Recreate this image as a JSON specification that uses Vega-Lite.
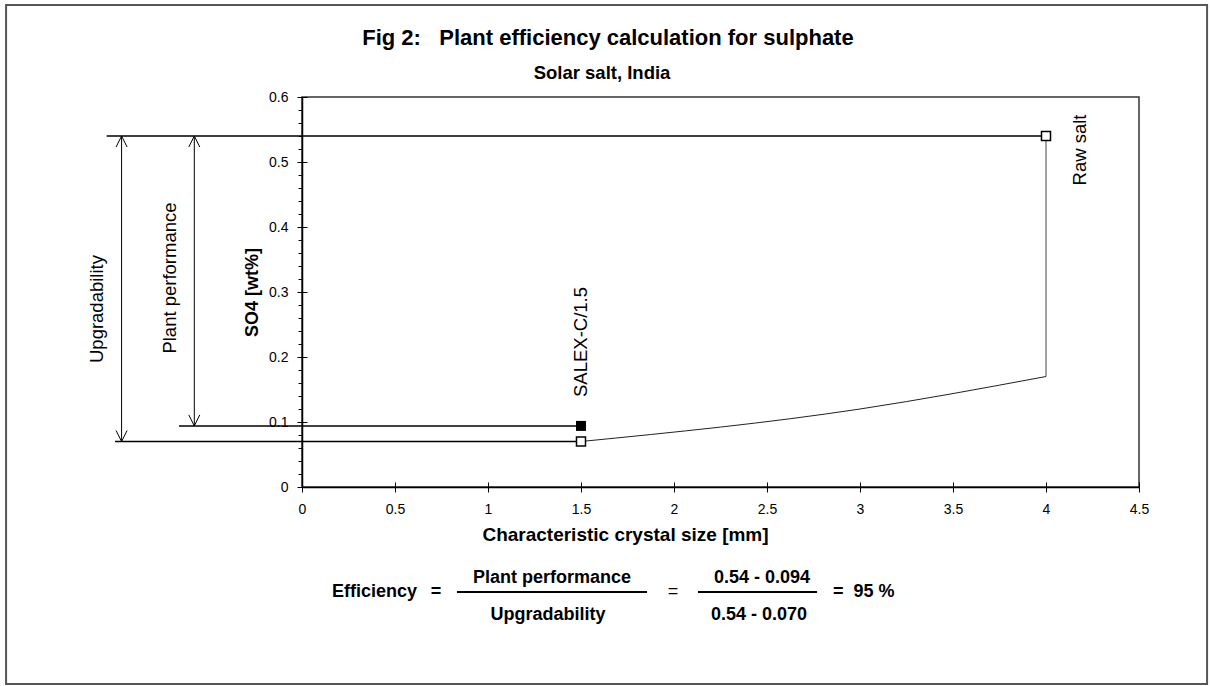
{
  "$schema": "https://vega.github.io/schema/vega-lite/v6.json",
  "autosize": {"type": "none"},
  "width": 837,
  "height": 390,
  "padding": {"left": 302, "top": 97, "right": 71, "bottom": 199},
  "background": "white",
  "config": {
    "font": "Liberation Sans",
    "view": {"stroke": "#333333", "strokeWidth": 1.5},
    "axis": {"grid": false, "domainColor": "black", "domainWidth": 1.5, "tickColor": "black", "labelColor": "black", "titleColor": "black", "labelFont": "Liberation Sans", "titleFont": "Liberation Sans"}
  },
  "resolve": {"axis": {"x": "independent", "y": "independent"}},
  "datasets": {
    "series": [{"x": 1.5, "y": 0.07}, {"x": 3, "y": 0.12}, {"x": 4, "y": 0.17}],
    "vertical": [{"x": 4, "y": 0.17, "y2": 0.54}],
    "points": [{"x": 1.5, "y": 0.07, "kind": "open"}, {"x": 4, "y": 0.54, "kind": "open"}, {"x": 1.5, "y": 0.094, "kind": "filled"}],
    "hlines": [{"x": -1.05, "x2": 4, "y": 0.54}, {"x": -0.661, "x2": 1.5, "y": 0.094}, {"x": -1.005, "x2": 1.5, "y": 0.07}],
    "arrows": [{"x": -0.97, "y": 0.07, "y2": 0.54}, {"x": -0.579, "y": 0.094, "y2": 0.54}],
    "rotlabels": [
      {"x": -1.102, "y": 0.2738, "text": "Upgradability"},
      {"x": -0.71, "y": 0.3215, "text": "Plant performance"},
      {"x": 1.5, "y": 0.2231, "text": "SALEX-C/1.5"},
      {"x": 4.183, "y": 0.5185, "text": "Raw salt"}
    ],
    "titles": [{"x": 1.645, "y": 0.68, "text": "Fig 2:\u00a0\u00a0 Plant efficiency calculation for sulphate"}],
    "subtitles": [{"x": 1.613, "y": 0.6277, "text": "Solar salt, India"}],
    "eqcenter": [
      {"x": 1.344, "y": -0.1477, "text": "Plant performance"},
      {"x": 1.323, "y": -0.2046, "text": "Upgradability"},
      {"x": 2.473, "y": -0.1477, "text": "0.54 - 0.094"},
      {"x": 2.457, "y": -0.2046, "text": "0.54 - 0.070"},
      {"x": 0.72, "y": -0.1692, "text": "="}
    ],
    "eqleft": [
      {"x": 0.161, "y": -0.1692, "text": "Efficiency"},
      {"x": 2.855, "y": -0.1692, "text": "=\u00a0\u00a095 %"}
    ],
    "eqplain": [{"x": 1.995, "y": -0.1692, "text": "="}],
    "fraclines": [{"x": 0.833, "x2": 1.855, "y": -0.1615}, {"x": 2.129, "x2": 2.769, "y": -0.1615}],
    "frame": [{"x": -1.591, "x2": 4.866, "y": 0.7415, "y2": -0.303}]
  },
  "layer": [
    {
      "data": {"name": "series"},
      "mark": {"type": "line", "interpolate": "monotone", "color": "#222222", "strokeWidth": 1},
      "encoding": {
        "x": {"field": "x", "type": "quantitative", "scale": {"domain": [0, 4.5], "nice": false, "zero": false},
          "axis": {"orient": "bottom", "title": "Characteristic crystal size [mm]", "values": [0, 0.5, 1, 1.5, 2, 2.5, 3, 3.5, 4, 4.5], "format": "~g", "tickSize": 5, "labelPadding": 10, "labelFontSize": 14, "titleFontSize": 19, "titleFontWeight": "bold", "titleX": 323, "titleY": 53, "titleBaseline": "alphabetic", "labelFlush": false, "labelOverlap": false}},
        "y": {"field": "y", "type": "quantitative", "scale": {"domain": [0, 0.6], "nice": false, "zero": false},
          "axis": {"orient": "left", "title": "SO4 [wt%]", "values": [0, 0.1, 0.2, 0.3, 0.4, 0.5, 0.6], "format": "~g", "tickSize": 5, "labelPadding": 9, "labelFontSize": 14, "titleFontSize": 18, "titleFontWeight": "bold", "titleX": -50, "titleY": 195, "titleBaseline": "middle", "labelFlush": false, "labelOverlap": false}}
      }
    },
    {
      "data": {"name": "frame"},
      "mark": {"type": "rect", "fill": null, "fillOpacity": 0, "stroke": "#555555", "strokeWidth": 2},
      "encoding": {
        "x": {"field": "x", "type": "quantitative", "scale": {"domain": [0, 4.5], "nice": false, "zero": false},
          "axis": {"orient": "bottom", "title": null, "values": [0, 0.5, 1, 1.5, 2, 2.5, 3, 3.5, 4, 4.5], "tickSize": -5, "labels": false, "domain": false}},
        "x2": {"field": "x2"},
        "y": {"field": "y", "type": "quantitative", "scale": {"domain": [0, 0.6], "nice": false, "zero": false},
          "axis": {"orient": "left", "title": null, "values": [0.02, 0.04, 0.06, 0.08, 0.12, 0.14, 0.16, 0.18, 0.22, 0.24, 0.26, 0.28, 0.32, 0.34, 0.36, 0.38, 0.42, 0.44, 0.46, 0.48, 0.52, 0.54, 0.56, 0.58], "tickSize": 4, "labels": false, "domain": false}},
        "y2": {"field": "y2"}
      }
    },
    {
      "data": {"name": "vertical"},
      "mark": {"type": "rule", "color": "#444444", "strokeWidth": 1},
      "encoding": {
        "x": {"field": "x", "type": "quantitative", "scale": {"domain": [0, 4.5], "nice": false, "zero": false}, "axis": null},
        "y": {"field": "y", "type": "quantitative", "scale": {"domain": [0, 0.6], "nice": false, "zero": false},
          "axis": {"orient": "left", "title": null, "values": [0, 0.1, 0.2, 0.3, 0.4, 0.5, 0.6], "tickSize": -5, "labels": false, "domain": false}},
        "y2": {"field": "y2"}
      }
    },
    {
      "data": {"name": "hlines"},
      "mark": {"type": "rule", "color": "black", "strokeWidth": 1.5},
      "encoding": {
        "x": {"field": "x", "type": "quantitative", "scale": {"domain": [0, 4.5], "nice": false, "zero": false}, "axis": null},
        "x2": {"field": "x2"},
        "y": {"field": "y", "type": "quantitative", "scale": {"domain": [0, 0.6], "nice": false, "zero": false}, "axis": null}
      }
    },
    {
      "data": {"name": "arrows"},
      "mark": {"type": "rule", "color": "black", "strokeWidth": 1},
      "encoding": {
        "x": {"field": "x", "type": "quantitative", "scale": {"domain": [0, 4.5], "nice": false, "zero": false}, "axis": null},
        "y": {"field": "y", "type": "quantitative", "scale": {"domain": [0, 0.6], "nice": false, "zero": false}, "axis": null},
        "y2": {"field": "y2"}
      }
    },
    {
      "data": {"name": "arrows"},
      "mark": {"type": "point", "shape": "M-0.5,1L0,0L0.5,1", "size": 484, "filled": false, "stroke": "black", "strokeWidth": 1, "opacity": 1},
      "encoding": {
        "x": {"field": "x", "type": "quantitative", "scale": {"domain": [0, 4.5], "nice": false, "zero": false}, "axis": null},
        "y": {"field": "y2", "type": "quantitative", "scale": {"domain": [0, 0.6], "nice": false, "zero": false}, "axis": null}
      }
    },
    {
      "data": {"name": "arrows"},
      "mark": {"type": "point", "shape": "M-0.5,-1L0,0L0.5,-1", "size": 484, "filled": false, "stroke": "black", "strokeWidth": 1, "opacity": 1},
      "encoding": {
        "x": {"field": "x", "type": "quantitative", "scale": {"domain": [0, 4.5], "nice": false, "zero": false}, "axis": null},
        "y": {"field": "y", "type": "quantitative", "scale": {"domain": [0, 0.6], "nice": false, "zero": false}, "axis": null}
      }
    },
    {
      "data": {"name": "points"},
      "transform": [{"filter": "datum.kind == 'open'"}],
      "mark": {"type": "square", "size": 81, "filled": true, "fill": "white", "stroke": "black", "strokeWidth": 1.5, "opacity": 1},
      "encoding": {
        "x": {"field": "x", "type": "quantitative", "scale": {"domain": [0, 4.5], "nice": false, "zero": false}, "axis": null},
        "y": {"field": "y", "type": "quantitative", "scale": {"domain": [0, 0.6], "nice": false, "zero": false}, "axis": null}
      }
    },
    {
      "data": {"name": "points"},
      "transform": [{"filter": "datum.kind == 'filled'"}],
      "mark": {"type": "square", "size": 100, "filled": true, "color": "black", "opacity": 1},
      "encoding": {
        "x": {"field": "x", "type": "quantitative", "scale": {"domain": [0, 4.5], "nice": false, "zero": false}, "axis": null},
        "y": {"field": "y", "type": "quantitative", "scale": {"domain": [0, 0.6], "nice": false, "zero": false}, "axis": null}
      }
    },
    {
      "data": {"name": "rotlabels"},
      "mark": {"type": "text", "angle": 270, "align": "center", "baseline": "middle", "fontSize": 18.5, "color": "black", "font": "Liberation Sans"},
      "encoding": {
        "x": {"field": "x", "type": "quantitative", "scale": {"domain": [0, 4.5], "nice": false, "zero": false}, "axis": null},
        "y": {"field": "y", "type": "quantitative", "scale": {"domain": [0, 0.6], "nice": false, "zero": false}, "axis": null},
        "text": {"field": "text"}
      }
    },
    {
      "data": {"name": "titles"},
      "mark": {"type": "text", "align": "center", "baseline": "alphabetic", "fontSize": 22, "fontWeight": "bold", "color": "black", "font": "Liberation Sans"},
      "encoding": {
        "x": {"field": "x", "type": "quantitative", "scale": {"domain": [0, 4.5], "nice": false, "zero": false}, "axis": null},
        "y": {"field": "y", "type": "quantitative", "scale": {"domain": [0, 0.6], "nice": false, "zero": false}, "axis": null},
        "text": {"field": "text"}
      }
    },
    {
      "data": {"name": "subtitles"},
      "mark": {"type": "text", "align": "center", "baseline": "alphabetic", "fontSize": 18.5, "fontWeight": "bold", "color": "black", "font": "Liberation Sans"},
      "encoding": {
        "x": {"field": "x", "type": "quantitative", "scale": {"domain": [0, 4.5], "nice": false, "zero": false}, "axis": null},
        "y": {"field": "y", "type": "quantitative", "scale": {"domain": [0, 0.6], "nice": false, "zero": false}, "axis": null},
        "text": {"field": "text"}
      }
    },
    {
      "data": {"name": "eqcenter"},
      "mark": {"type": "text", "align": "center", "baseline": "alphabetic", "fontSize": 18, "fontWeight": "bold", "color": "black", "font": "Liberation Sans"},
      "encoding": {
        "x": {"field": "x", "type": "quantitative", "scale": {"domain": [0, 4.5], "nice": false, "zero": false}, "axis": null},
        "y": {"field": "y", "type": "quantitative", "scale": {"domain": [0, 0.6], "nice": false, "zero": false}, "axis": null},
        "text": {"field": "text"}
      }
    },
    {
      "data": {"name": "eqleft"},
      "mark": {"type": "text", "align": "left", "baseline": "alphabetic", "fontSize": 18, "fontWeight": "bold", "color": "black", "font": "Liberation Sans"},
      "encoding": {
        "x": {"field": "x", "type": "quantitative", "scale": {"domain": [0, 4.5], "nice": false, "zero": false}, "axis": null},
        "y": {"field": "y", "type": "quantitative", "scale": {"domain": [0, 0.6], "nice": false, "zero": false}, "axis": null},
        "text": {"field": "text"}
      }
    },
    {
      "data": {"name": "eqplain"},
      "mark": {"type": "text", "align": "center", "baseline": "alphabetic", "fontSize": 18, "color": "black", "font": "Liberation Sans"},
      "encoding": {
        "x": {"field": "x", "type": "quantitative", "scale": {"domain": [0, 4.5], "nice": false, "zero": false}, "axis": null},
        "y": {"field": "y", "type": "quantitative", "scale": {"domain": [0, 0.6], "nice": false, "zero": false}, "axis": null},
        "text": {"field": "text"}
      }
    },
    {
      "data": {"name": "fraclines"},
      "mark": {"type": "rule", "color": "black", "strokeWidth": 2},
      "encoding": {
        "x": {"field": "x", "type": "quantitative", "scale": {"domain": [0, 4.5], "nice": false, "zero": false}, "axis": null},
        "x2": {"field": "x2"},
        "y": {"field": "y", "type": "quantitative", "scale": {"domain": [0, 0.6], "nice": false, "zero": false}, "axis": null}
      }
    }
  ]
}
